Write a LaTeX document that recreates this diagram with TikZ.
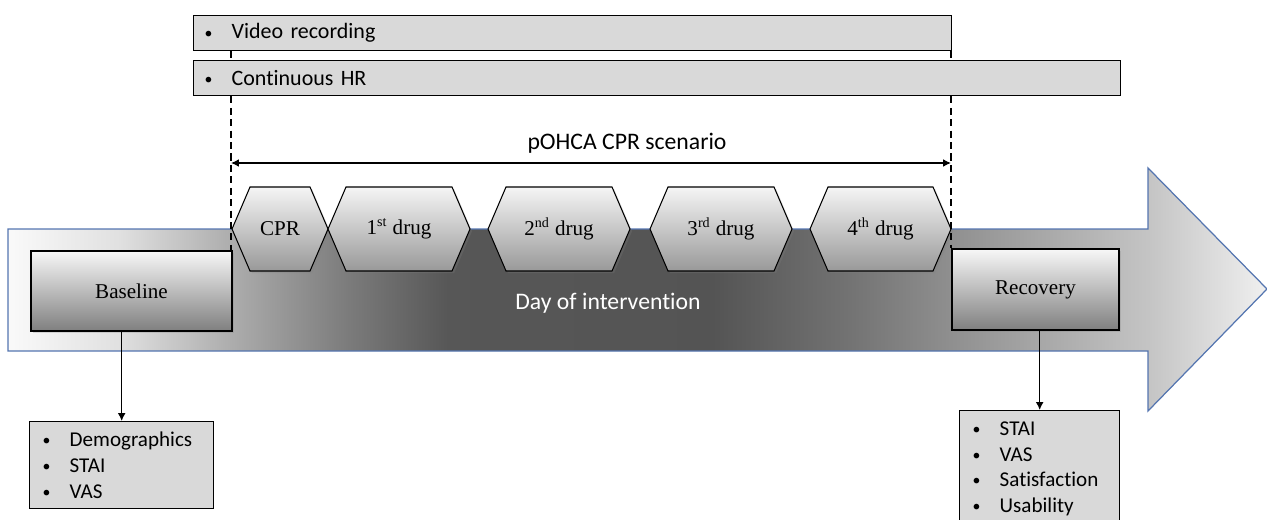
\documentclass[tikz,border=0pt]{standalone}
\usepackage{fontspec}
\setmainfont{Carlito}[Ligatures=NoCommon]
\newfontfamily\timesfont{Liberation Serif}
\usetikzlibrary{arrows.meta, shadows}

\definecolor{barfill}{RGB}{217,217,217}
\definecolor{arrowline}{RGB}{84,117,176}

% grey ramp of the time line, light - dark - light
\pgfdeclarehorizontalshading{timeline}{100bp}{color(0bp)=(black!2); color(25bp)=(black!2);
  color(29.4bp)=(black!12); color(33.8bp)=(black!32); color(38.6bp)=(black!52);
  color(42.5bp)=(black!66); color(53bp)=(black!67); color(58.4bp)=(black!55);
  color(62.4bp)=(black!44); color(70.3bp)=(black!23); color(75bp)=(black!6); color(100bp)=(black!6)}

\newcommand{\bul}{\makebox[0.54cm][l]{\raisebox{0.5pt}{\fontsize{9}{9}\selectfont\textbullet}}}

\begin{document}
\begin{tikzpicture}[x=0.02cm, y=-0.02cm,
  bar/.style={draw, fill=barfill, line width=0.8pt, minimum height=0.7cm, inner xsep=0.22cm,
    anchor=north west, align=left, font=\fontsize{12.5}{15}\selectfont},
  listbox/.style={draw, fill=barfill, line width=0.8pt, inner xsep=0.26cm, anchor=north west,
    align=left, font=\fontsize{12}{14.6}\selectfont},
  phase/.style={draw, line width=0.8pt, top color=black!3, bottom color=black!50,
    font=\timesfont\fontsize{12}{14}\selectfont,
    drop shadow={shadow xshift=1.2pt, shadow yshift=-1.2pt, opacity=0.25}},
  hexa/.style={draw, line width=0.6pt, top color=black!4, bottom color=black!40,
    drop shadow={shadow xshift=1.2pt, shadow yshift=-1.2pt, opacity=0.25}},
  hexlabel/.style={font=\timesfont\fontsize{12}{14}\selectfont, inner sep=0pt}]
  \clip (0,0) rectangle (1267,520);
  % big arrow
  \shadedraw[shading=timeline, draw=arrowline, line width=0.7pt]
    (8,229) -- (1148,229) -- (1148,168) -- (1267,289) -- (1148,411) -- (1148,351) -- (8,351) -- cycle;
  % steps of the scenario
  \foreach \xl/\xr/\nm/\lab in {232/328/cpr/CPR, 328/470/drug1/{1\textsuperscript{st} drug},
      488/630/drug2/{2\textsuperscript{nd} drug}, 650/792/drug3/{3\textsuperscript{rd} drug},
      810/951/drug4/{4\textsuperscript{th} drug}} {
    \draw[hexa] (\xl,229) -- (\xl+18,187) -- (\xr-18,187) -- (\xr,229) -- (\xr-18,271) -- (\xl+18,271) -- cycle;
    \node[hexlabel] (\nm) at ({(\xl+\xr)/2},229) {\lab};
  }
  % before and after
  \node[phase, minimum width=4.02cm, minimum height=1.6cm] (baseline) at (131.5,291) {Baseline};
  \node[phase, minimum width=3.34cm, minimum height=1.62cm] (recovery) at (1035.5,289.5) {Recovery};
  \node[text=white, font=\fontsize{13.5}{16}\selectfont] (day) at (608,303) {Day of intervention};
  % recordings over the whole session
  \node[bar, minimum width=15.16cm, text width=14.72cm] (video) at (193,15) {\bul Video recording};
  \node[bar, minimum width=18.54cm, text width=18.10cm] (hr) at (193,60) {\bul Continuous HR};
  % questionnaires
  \node[listbox, minimum width=3.68cm, minimum height=1.74cm, text width=3.16cm] (pre) at (29,421)
    {\bul Demographics\\ \bul STAI\\ \bul VAS};
  \node[listbox, minimum width=3.2cm, minimum height=2.32cm, text width=2.68cm] (post) at (959,410)
    {\bul STAI\\ \bul VAS\\ \bul Satisfaction\\ \bul Usability};
  % scenario span
  \coordinate (sc-l) at (231,163);
  \coordinate (sc-r) at (951,163);
  \draw[{Latex[length=4.5pt,width=4.5pt]}-{Latex[length=4.5pt,width=4.5pt]}, line width=1.5pt] (sc-l) -- (sc-r);
  \node[font=\fontsize{13.5}{16}\selectfont] (scenario) at (627,143) {pOHCA CPR scenario};
  \draw[dashed, line width=0.8pt, dash pattern=on 4pt off 2.5pt] (sc-l |- video.south) -- (sc-l |- hr.north);
  \draw[dashed, line width=0.8pt, dash pattern=on 4pt off 2.5pt] (sc-l |- hr.south) -- (sc-l |- baseline.north);
  \draw[dashed, line width=0.8pt, dash pattern=on 4pt off 2.5pt] (sc-r |- video.south) -- (sc-r |- hr.north);
  \draw[dashed, line width=0.8pt, dash pattern=on 4pt off 2.5pt] (sc-r |- hr.south) -- (sc-r |- recovery.north);
  % links to the questionnaires
  \draw[-{Latex[length=4.5pt,width=4.5pt]}, line width=0.8pt] (pre.north |- baseline.south) -- (pre.north);
  \draw[-{Latex[length=4.5pt,width=4.5pt]}, line width=0.8pt] (post.north |- recovery.south) -- (post.north);
\end{tikzpicture}
\end{document}
